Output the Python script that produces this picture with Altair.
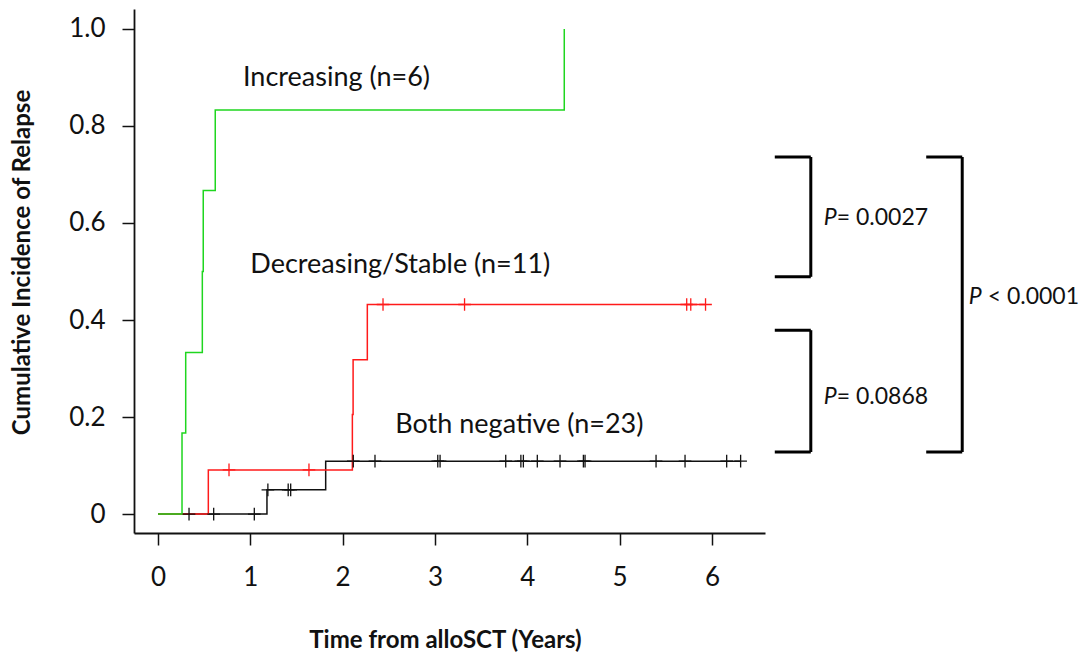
import altair as alt
import pandas as pd

# ---- step curves (time in years, cumulative incidence) ----
green_t = [0.0, 0.26, 0.30, 0.48, 0.49, 0.62, 4.40]
green_v = [0.0, 0.167, 0.333, 0.5, 0.667, 0.833, 1.0]

red_t = [0.0, 0.545, 2.105, 2.113, 2.267, 5.93]
red_v = [0.0, 0.091, 0.205, 0.318, 0.432, 0.432]

black_t = [0.0, 1.18, 1.816, 6.31]
black_v = [0.0, 0.05, 0.109, 0.109]

# ---- censor marks ----
red_cens_t = [0.769, 1.635, 2.437, 3.32, 5.726, 5.77, 5.93]
red_cens_v = [0.091, 0.091, 0.432, 0.432, 0.432, 0.432, 0.432]

black_cens_t = [0.336, 0.603, 1.043, 1.19, 1.41, 1.437, 2.115, 2.35, 3.03, 3.055,
                3.766, 3.93, 3.957, 4.108, 4.354, 4.607, 4.625, 5.394, 5.708, 6.159, 6.31]
black_cens_v = [0.0, 0.0, 0.0, 0.05, 0.05, 0.05] + [0.109] * 15

# ---- group labels ----
label_text = ["Increasing (n=6)", "Decreasing/Stable (n=11)", "Both negative (n=23)"]
label_t = [0.92, 1.0, 2.57]
label_v = [0.899, 0.513, 0.1835]

# ---- comparison brackets (data units) ----
br_x1 = [6.68, 8.50 - 0.18, 6.68]
br_x = [7.07, 8.71, 7.07]
br_top = [0.736, 0.736, 0.379]
br_bot = [0.489, 0.128, 0.128]
p_rest = ["= 0.0027", "< 0.0001", "= 0.0868"]
p_t = [7.21, 8.78, 7.21]
p_v = [0.610, 0.447, 0.241]
p_dx = [13, 19, 13]

series = ["Both negative", "Decreasing/Stable", "Increasing"]
colors = ["#111111", "#ff1a1a", "#1fd61f"]

rows = []
for name, ts, vs in [("Both negative", black_t, black_v),
                     ("Decreasing/Stable", red_t, red_v),
                     ("Increasing", green_t, green_v)]:
    for i, (t, v) in enumerate(zip(ts, vs)):
        rows.append({"series": name, "t": t, "v": v, "o": i})
curves = pd.DataFrame(rows)

cens = pd.DataFrame(
    [{"series": "Decreasing/Stable", "t": t, "v": v} for t, v in zip(red_cens_t, red_cens_v)]
    + [{"series": "Both negative", "t": t, "v": v} for t, v in zip(black_cens_t, black_cens_v)]
)

labels = pd.DataFrame({"text": label_text, "t": label_t, "v": label_v})

# bracket segments: vertical + top arm + bottom arm
seg = []
for x1, x, top, bot in zip(br_x1, br_x, br_top, br_bot):
    seg.append({"x": x, "x2": x, "y": top, "y2": bot})
    seg.append({"x": x1, "x2": x, "y": top, "y2": top})
    seg.append({"x": x1, "x2": x, "y": bot, "y2": bot})
brackets = pd.DataFrame(seg)
ptext = pd.DataFrame({"rest": p_rest, "t": p_t, "v": p_v, "dx": p_dx})

FONT = "Lato"
xscale = alt.Scale(domain=[-0.26, 6.574], nice=False, zero=False)
yscale = alt.Scale(domain=[-0.039, 1.041], nice=False, zero=False)
color_scale = alt.Scale(domain=series, range=colors)

xaxis = alt.Axis(values=[0, 1, 2, 3, 4, 5, 6], title="Time from alloSCT (Years)",
                 labelExpr="format(datum.value, 'd')",
                 grid=False, tickSize=12, tickWidth=1.5, domainWidth=1.8, domainColor="#111",
                 tickColor="#111", labelFont=FONT, labelFontSize=26, labelColor="#111",
                 labelPadding=19, titleFont=FONT, titleFontSize=24, titleFontWeight="bold",
                 titleColor="#111", titleX=311, titleY=107, titleBaseline="middle",
                 titleAlign="center")
yaxis = alt.Axis(values=[0, 0.2, 0.4, 0.6, 0.8, 1.0], title="Cumulative Incidence of Relapse",
                 labelExpr="datum.value == 0 ? '0' : format(datum.value, '.1f')",
                 grid=False, tickSize=12, tickWidth=1.5, domainWidth=1.8, domainColor="#111",
                 tickColor="#111", labelFont=FONT, labelFontSize=26, labelColor="#111",
                 labelPadding=17, titleFont=FONT, titleFontSize=24, titleFontWeight="bold",
                 titleColor="#111", titleX=-112, titleY=253, titleAngle=-90,
                 titleBaseline="middle", titleAlign="center")

lines = alt.Chart(curves).mark_line(interpolate="step-after", strokeWidth=1.5).encode(
    x=alt.X("t:Q", scale=xscale, axis=xaxis),
    y=alt.Y("v:Q", scale=yscale, axis=yaxis),
    color=alt.Color("series:N", scale=color_scale, legend=None, sort=series),
    detail="series:N",
    order="o:Q",
)

cross = "M-1,0L1,0M0,-1L0,1"
marks = alt.Chart(cens).mark_point(shape=cross, size=160, filled=False, strokeWidth=1.3,
                                   opacity=1).encode(
    x=alt.X("t:Q", scale=xscale),
    y=alt.Y("v:Q", scale=yscale),
    color=alt.Color("series:N", scale=color_scale, legend=None),
)

text_labels = alt.Chart(labels).mark_text(align="left", baseline="middle", font=FONT,
                                          fontSize=27, color="#111").encode(
    x=alt.X("t:Q", scale=xscale), y=alt.Y("v:Q", scale=yscale), text="text:N")

rules = alt.Chart(brackets).mark_rule(strokeWidth=3, color="#000").encode(
    x=alt.X("x:Q", scale=xscale), x2="x2:Q",
    y=alt.Y("y:Q", scale=yscale), y2="y2:Q")

p_italic = alt.Chart(ptext).mark_text(align="left", baseline="middle", font=FONT,
                                      fontSize=23, fontStyle="italic", color="#111").encode(
    x=alt.X("t:Q", scale=xscale), y=alt.Y("v:Q", scale=yscale), text=alt.value("P"))

p_layers = []
for i in range(len(p_rest)):
    p_layers.append(
        alt.Chart(ptext.iloc[[i]]).mark_text(align="left", baseline="middle", font=FONT,
                                            fontSize=23, color="#111", dx=p_dx[i]).encode(
            x=alt.X("t:Q", scale=xscale), y=alt.Y("v:Q", scale=yscale), text="rest:N")
    )

chart = alt.layer(lines, marks, text_labels, rules, p_italic, *p_layers).properties(
    width=631, height=524,
    autosize=alt.AutoSizeParams(type="none"),
    padding={"left": 134, "top": 9, "right": 322, "bottom": 125},
    background="white",
).configure_view(stroke=None)

chart.save("out.html", embed_options={"renderer": "svg", "actions": False})
